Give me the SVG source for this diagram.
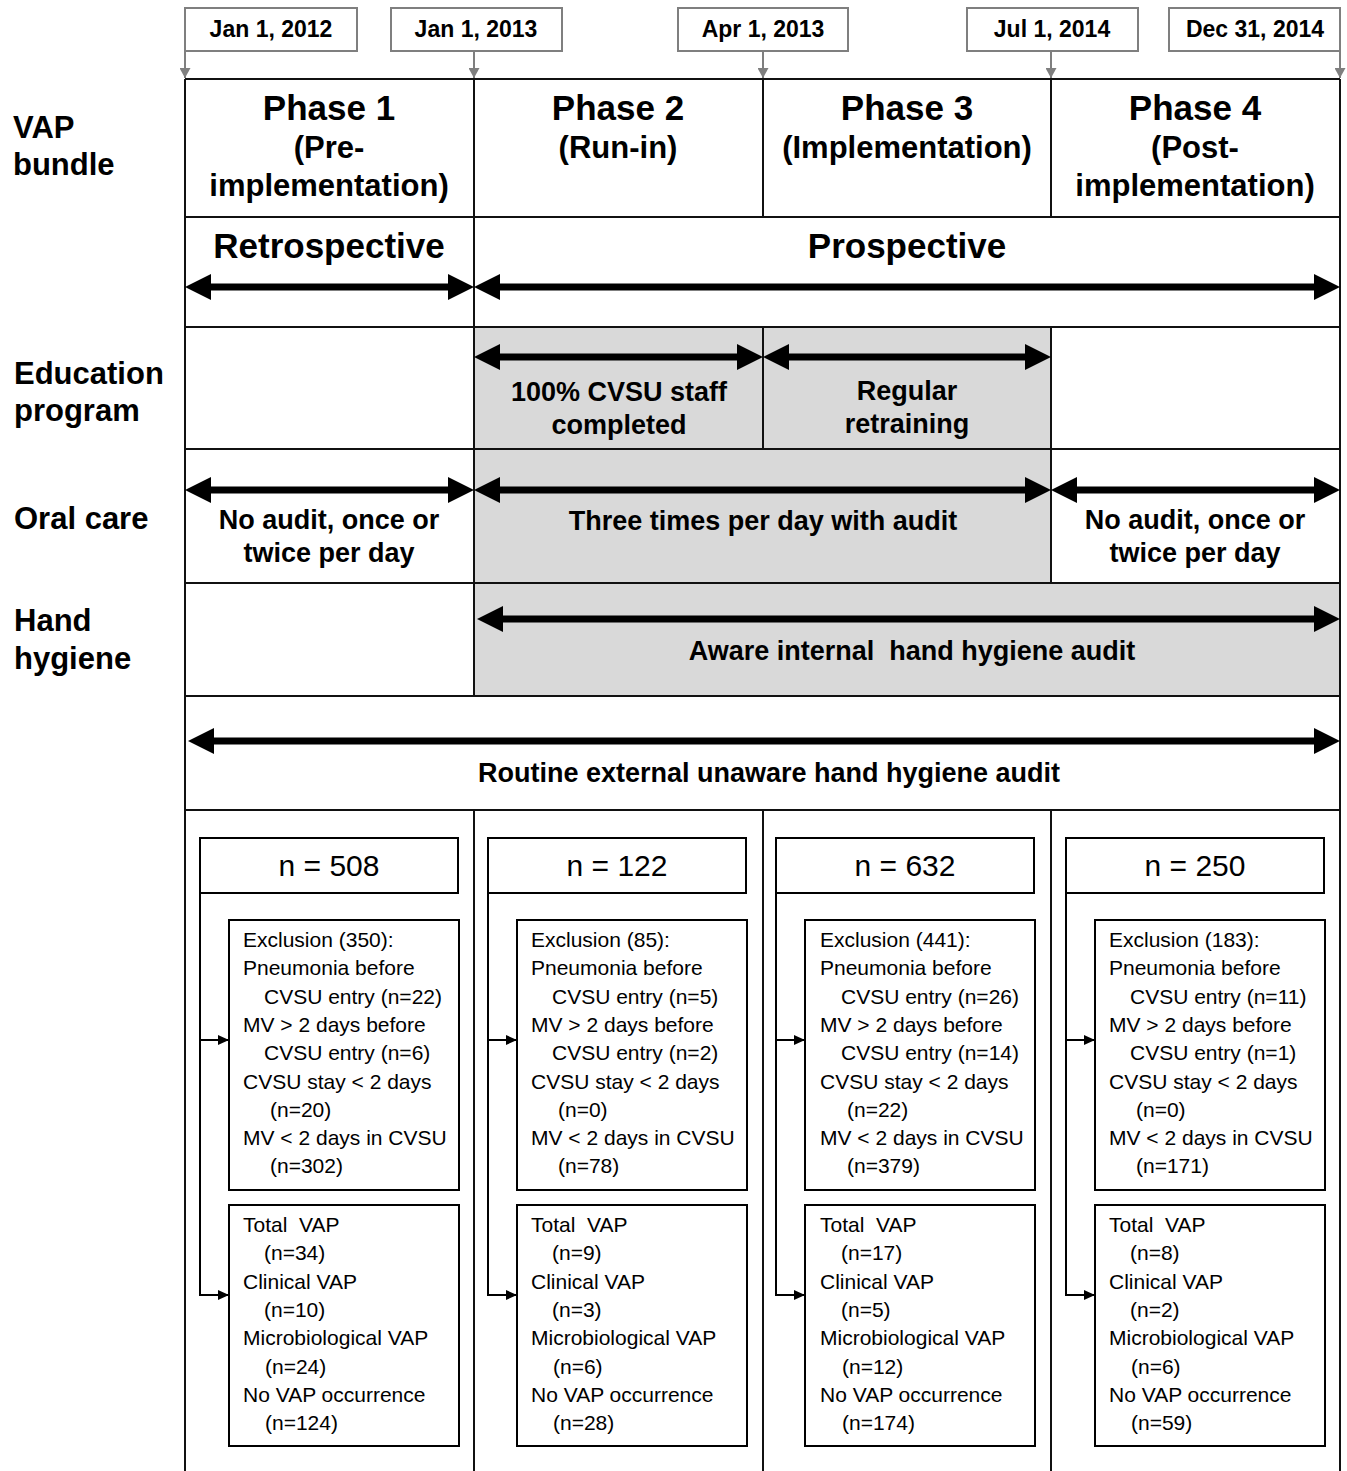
<svg xmlns="http://www.w3.org/2000/svg" width="1347" height="1471" viewBox="0 0 1347 1471">
<style>
text{font-family:"Liberation Sans",Arial,sans-serif;fill:#000}
.b{font-weight:bold}
.c{text-anchor:middle}
.dt{font-size:23px}
.ph{font-size:35px}
.sub{font-size:31px}
.lbl{font-size:31px}
.t27{font-size:27px}
.n{font-size:30px}
.s{font-size:21px}
.grid{stroke:#111;stroke-width:2;fill:none}
.date{fill:#fff;stroke:#7f7f7f;stroke-width:2}
.darr{stroke:#7f7f7f;stroke-width:2;fill:none}
.box{fill:#fff;stroke:#000;stroke-width:2}
.thick{stroke:#000;stroke-width:7;fill:none}
.conn{stroke:#000;stroke-width:2;fill:none}
.gray{fill:#d9d9d9}
</style>
<defs>
<marker id="ah" markerUnits="userSpaceOnUse" viewBox="0 0 26 26" markerWidth="26" markerHeight="26" refX="14" refY="13" orient="auto-start-reverse"><path d="M0,0 L26,13 L0,26 z" fill="#000"/></marker>
<marker id="ga" markerUnits="userSpaceOnUse" viewBox="0 0 10 11" markerWidth="10" markerHeight="11" refX="10" refY="5.5" orient="auto"><path d="M0,0 L10,5.5 L0,11 z" fill="#7f7f7f"/></marker>
<marker id="sa" markerUnits="userSpaceOnUse" viewBox="0 0 11 10" markerWidth="11" markerHeight="10" refX="11" refY="5" orient="auto"><path d="M0,0 L11,5 L0,10 z" fill="#000"/></marker>
</defs>
<rect width="1347" height="1471" fill="#fff"/>

<!-- gray fills -->
<rect class="gray" x="474" y="327" width="577" height="122"/>
<rect class="gray" x="474" y="449" width="577" height="134"/>
<rect class="gray" x="474" y="583" width="866" height="113"/>

<!-- grid -->
<g id="grid" class="grid">
<path d="M185,79 H1340 M185,217 H1340 M185,327 H1340 M185,449 H1340 M185,583 H1340 M185,696 H1340 M185,810 H1340"/>
<path d="M185,79 V1471 M1340,79 V1471"/>
<path d="M474,79 V696 M763,79 V217 M1051,79 V217"/>
<path d="M763,327 V449 M1051,327 V583"/>
<path d="M474,810 V1471 M763,810 V1471 M1051,810 V1471"/>
</g>

<!-- dates -->
<g id="date1"><rect class="date" x="185" y="8" width="172" height="43"/><text class="b c dt" x="271" y="37">Jan 1, 2012</text></g>
<g id="date2"><rect class="date" x="391" y="8" width="171" height="43"/><text class="b c dt" x="476" y="37">Jan 1, 2013</text></g>
<g id="date3"><rect class="date" x="678" y="8" width="170" height="43"/><text class="b c dt" x="763" y="37">Apr 1, 2013</text></g>
<g id="date4"><rect class="date" x="967" y="8" width="171" height="43"/><text class="b c dt" x="1052" y="37">Jul 1, 2014</text></g>
<g id="date5"><rect class="date" x="1169" y="8" width="171" height="43"/><text class="b c dt" x="1255" y="37">Dec 31, 2014</text></g>

<!-- left labels -->
<g id="lbl-vap"><text class="b lbl" x="13" y="138">VAP</text><text class="b lbl" x="13" y="175">bundle</text></g>
<g id="lbl-edu"><text class="b lbl" x="14" y="384">Education</text><text class="b lbl" x="14" y="421">program</text></g>
<g id="lbl-oral"><text class="b lbl" x="14" y="529">Oral care</text></g>
<g id="lbl-hand"><text class="b lbl" x="14" y="631">Hand</text><text class="b lbl" x="14" y="669">hygiene</text></g>

<!-- phases -->
<g id="phase1"><text class="b c ph" x="329" y="120">Phase 1</text><text class="b c sub" x="329" y="158">(Pre-</text><text class="b c sub" x="329" y="196">implementation)</text></g>
<g id="phase2"><text class="b c ph" x="618" y="120">Phase 2</text><text class="b c sub" x="618" y="158">(Run-in)</text></g>
<g id="phase3"><text class="b c ph" x="907" y="120">Phase 3</text><text class="b c sub" x="907" y="158">(Implementation)</text></g>
<g id="phase4"><text class="b c ph" x="1195" y="120">Phase 4</text><text class="b c sub" x="1195" y="158">(Post-</text><text class="b c sub" x="1195" y="196">implementation)</text></g>

<g id="retro"><text class="b c ph" x="329" y="258">Retrospective</text></g>
<g id="prosp"><text class="b c ph" x="907" y="258">Prospective</text></g>

<g id="edu1"><text class="b c t27" x="619" y="401">100% CVSU staff</text><text class="b c t27" x="619" y="434">completed</text></g>
<g id="edu2"><text class="b c t27" x="907" y="400">Regular</text><text class="b c t27" x="907" y="433">retraining</text></g>

<g id="oral1"><text class="b c t27" x="329" y="529">No audit, once or</text><text class="b c t27" x="329" y="562">twice per day</text></g>
<g id="oral2"><text class="b c t27" x="763" y="530">Three times per day with audit</text></g>
<g id="oral3"><text class="b c t27" x="1195" y="529">No audit, once or</text><text class="b c t27" x="1195" y="562">twice per day</text></g>

<g id="hand1"><text class="b c t27" x="912" y="660" xml:space="preserve">Aware internal  hand hygiene audit</text></g>
<g id="hand2"><text class="b c t27" x="769" y="782">Routine external unaware hand hygiene audit</text></g>

<!-- bottom columns -->
<g id="col1" transform="translate(185,0)">
<rect class="box" x="15" y="838" width="258" height="55"/>
<text class="n c" x="144" y="876">n = 508</text>
<rect class="box" x="44" y="920" width="230" height="270"/>
<text class="s" x="58" y="947">Exclusion (350):</text>
<text class="s" x="58" y="975">Pneumonia before</text>
<text class="s" x="79" y="1004">CVSU entry (n=22)</text>
<text class="s" x="58" y="1032">MV &gt; 2 days before</text>
<text class="s" x="79" y="1060">CVSU entry (n=6)</text>
<text class="s" x="58" y="1089">CVSU stay &lt; 2 days</text>
<text class="s" x="85" y="1117">(n=20)</text>
<text class="s" x="58" y="1145">MV &lt; 2 days in CVSU</text>
<text class="s" x="85" y="1173">(n=302)</text>
<rect class="box" x="44" y="1205" width="230" height="241"/>
<text class="s" x="58" y="1232" xml:space="preserve">Total  VAP</text>
<text class="s" x="79" y="1260">(n=34)</text>
<text class="s" x="58" y="1289">Clinical VAP</text>
<text class="s" x="79" y="1317">(n=10)</text>
<text class="s" x="58" y="1345">Microbiological VAP</text>
<text class="s" x="80" y="1374">(n=24)</text>
<text class="s" x="58" y="1402">No VAP occurrence</text>
<text class="s" x="80" y="1430">(n=124)</text>
</g>

<g id="col2" transform="translate(473,0)">
<rect class="box" x="15" y="838" width="258" height="55"/>
<text class="n c" x="144" y="876">n = 122</text>
<rect class="box" x="44" y="920" width="230" height="270"/>
<text class="s" x="58" y="947">Exclusion (85):</text>
<text class="s" x="58" y="975">Pneumonia before</text>
<text class="s" x="79" y="1004">CVSU entry (n=5)</text>
<text class="s" x="58" y="1032">MV &gt; 2 days before</text>
<text class="s" x="79" y="1060">CVSU entry (n=2)</text>
<text class="s" x="58" y="1089">CVSU stay &lt; 2 days</text>
<text class="s" x="85" y="1117">(n=0)</text>
<text class="s" x="58" y="1145">MV &lt; 2 days in CVSU</text>
<text class="s" x="85" y="1173">(n=78)</text>
<rect class="box" x="44" y="1205" width="230" height="241"/>
<text class="s" x="58" y="1232" xml:space="preserve">Total  VAP</text>
<text class="s" x="79" y="1260">(n=9)</text>
<text class="s" x="58" y="1289">Clinical VAP</text>
<text class="s" x="79" y="1317">(n=3)</text>
<text class="s" x="58" y="1345">Microbiological VAP</text>
<text class="s" x="80" y="1374">(n=6)</text>
<text class="s" x="58" y="1402">No VAP occurrence</text>
<text class="s" x="80" y="1430">(n=28)</text>
</g>

<g id="col3" transform="translate(762,0)">
<rect class="box" x="14" y="838" width="258" height="55"/>
<text class="n c" x="143" y="876">n = 632</text>
<rect class="box" x="43" y="920" width="230" height="270"/>
<text class="s" x="58" y="947">Exclusion (441):</text>
<text class="s" x="58" y="975">Pneumonia before</text>
<text class="s" x="79" y="1004">CVSU entry (n=26)</text>
<text class="s" x="58" y="1032">MV &gt; 2 days before</text>
<text class="s" x="79" y="1060">CVSU entry (n=14)</text>
<text class="s" x="58" y="1089">CVSU stay &lt; 2 days</text>
<text class="s" x="85" y="1117">(n=22)</text>
<text class="s" x="58" y="1145">MV &lt; 2 days in CVSU</text>
<text class="s" x="85" y="1173">(n=379)</text>
<rect class="box" x="43" y="1205" width="230" height="241"/>
<text class="s" x="58" y="1232" xml:space="preserve">Total  VAP</text>
<text class="s" x="79" y="1260">(n=17)</text>
<text class="s" x="58" y="1289">Clinical VAP</text>
<text class="s" x="79" y="1317">(n=5)</text>
<text class="s" x="58" y="1345">Microbiological VAP</text>
<text class="s" x="80" y="1374">(n=12)</text>
<text class="s" x="58" y="1402">No VAP occurrence</text>
<text class="s" x="80" y="1430">(n=174)</text>
</g>

<g id="col4" transform="translate(1051,0)">
<rect class="box" x="15" y="838" width="258" height="55"/>
<text class="n c" x="144" y="876">n = 250</text>
<rect class="box" x="44" y="920" width="230" height="270"/>
<text class="s" x="58" y="947">Exclusion (183):</text>
<text class="s" x="58" y="975">Pneumonia before</text>
<text class="s" x="79" y="1004">CVSU entry (n=11)</text>
<text class="s" x="58" y="1032">MV &gt; 2 days before</text>
<text class="s" x="79" y="1060">CVSU entry (n=1)</text>
<text class="s" x="58" y="1089">CVSU stay &lt; 2 days</text>
<text class="s" x="85" y="1117">(n=0)</text>
<text class="s" x="58" y="1145">MV &lt; 2 days in CVSU</text>
<text class="s" x="85" y="1173">(n=171)</text>
<rect class="box" x="44" y="1205" width="230" height="241"/>
<text class="s" x="58" y="1232" xml:space="preserve">Total  VAP</text>
<text class="s" x="79" y="1260">(n=8)</text>
<text class="s" x="58" y="1289">Clinical VAP</text>
<text class="s" x="79" y="1317">(n=2)</text>
<text class="s" x="58" y="1345">Microbiological VAP</text>
<text class="s" x="80" y="1374">(n=6)</text>
<text class="s" x="58" y="1402">No VAP occurrence</text>
<text class="s" x="80" y="1430">(n=59)</text>
</g>

<!-- connectors -->
<g id="connectors">
<g class="darr">
<line x1="185" y1="51" x2="185" y2="78" marker-end="url(#ga)"/>
<line x1="474" y1="51" x2="474" y2="78" marker-end="url(#ga)"/>
<line x1="763" y1="51" x2="763" y2="78" marker-end="url(#ga)"/>
<line x1="1051" y1="51" x2="1051" y2="78" marker-end="url(#ga)"/>
<line x1="1340" y1="51" x2="1340" y2="78" marker-end="url(#ga)"/>
</g>
<g class="thick">
<line x1="197" y1="287" x2="462" y2="287" marker-start="url(#ah)" marker-end="url(#ah)"/>
<line x1="486" y1="287" x2="1328" y2="287" marker-start="url(#ah)" marker-end="url(#ah)"/>
<line x1="486" y1="357" x2="751" y2="357" marker-start="url(#ah)" marker-end="url(#ah)"/>
<line x1="775" y1="357" x2="1039" y2="357" marker-start="url(#ah)" marker-end="url(#ah)"/>
<line x1="197" y1="490" x2="462" y2="490" marker-start="url(#ah)" marker-end="url(#ah)"/>
<line x1="486" y1="490" x2="1039" y2="490" marker-start="url(#ah)" marker-end="url(#ah)"/>
<line x1="1063" y1="490" x2="1328" y2="490" marker-start="url(#ah)" marker-end="url(#ah)"/>
<line x1="489" y1="619" x2="1328" y2="619" marker-start="url(#ah)" marker-end="url(#ah)"/>
<line x1="200" y1="741" x2="1328" y2="741" marker-start="url(#ah)" marker-end="url(#ah)"/>
</g>
<g class="conn">
<polyline points="200,893 200,1295 229,1295" marker-end="url(#sa)"/>
<line x1="200" y1="1040" x2="229" y2="1040" marker-end="url(#sa)"/>
<polyline points="488,893 488,1295 517,1295" marker-end="url(#sa)"/>
<line x1="488" y1="1040" x2="517" y2="1040" marker-end="url(#sa)"/>
<polyline points="776,893 776,1295 805,1295" marker-end="url(#sa)"/>
<line x1="776" y1="1040" x2="805" y2="1040" marker-end="url(#sa)"/>
<polyline points="1066,893 1066,1295 1095,1295" marker-end="url(#sa)"/>
<line x1="1066" y1="1040" x2="1095" y2="1040" marker-end="url(#sa)"/>
</g>
</g>
</svg>
